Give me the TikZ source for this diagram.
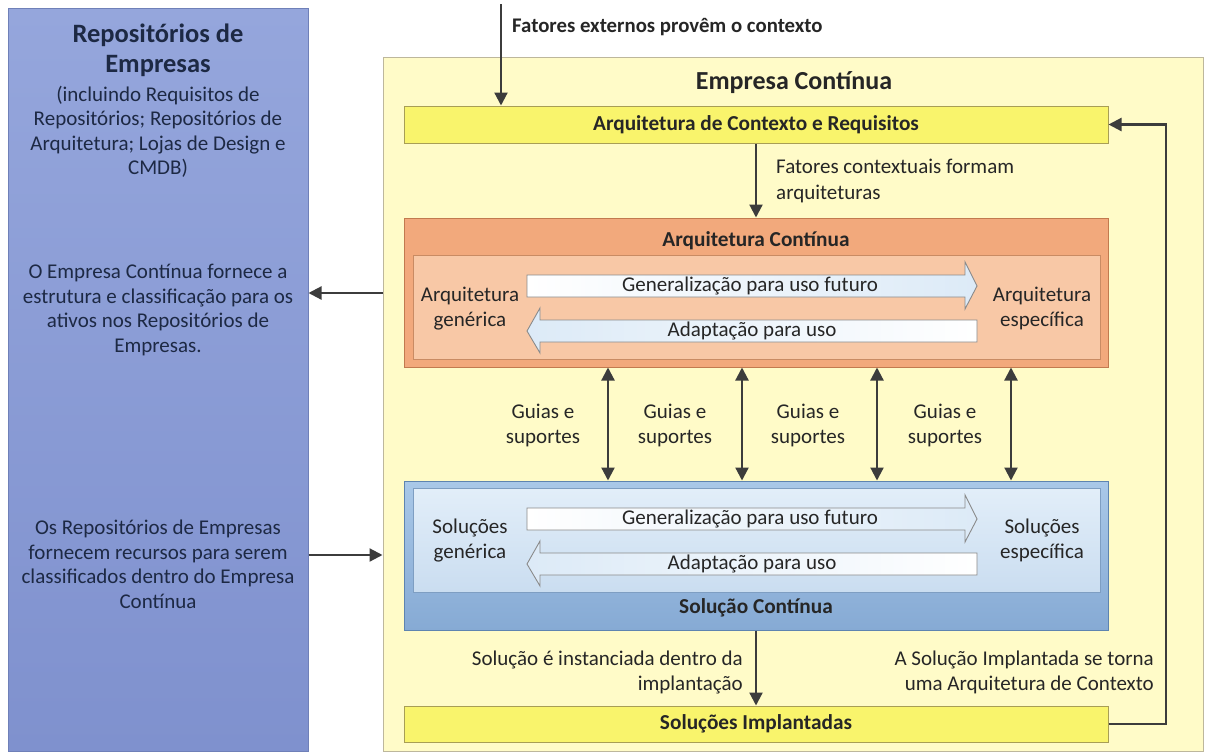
\documentclass[tikz,border=0pt]{standalone}
\usepackage{fontspec}
\setmainfont{Carlito}
\usetikzlibrary{arrows.meta}

\definecolor{repoTop}{HTML}{95A6DC}
\definecolor{repoBot}{HTML}{7F91CE}
\definecolor{repoEdge}{HTML}{6F80B8}
\definecolor{entFill}{HTML}{FFFBC8}
\definecolor{entEdge}{HTML}{BDB79C}
\definecolor{barFill}{HTML}{F9F46C}
\definecolor{barEdge}{HTML}{A89E55}
\definecolor{archOut}{HTML}{F2A97C}
\definecolor{archOutEdge}{HTML}{C27A4F}
\definecolor{archIn}{HTML}{F8C8A6}
\definecolor{archInEdge}{HTML}{C98B63}
\definecolor{solTop}{HTML}{A9C8E8}
\definecolor{solBot}{HTML}{86AAD4}
\definecolor{solEdge}{HTML}{5E84B0}
\definecolor{solInTop}{HTML}{E2EEF9}
\definecolor{solInBot}{HTML}{CADDF0}
\definecolor{solInEdge}{HTML}{7E9EC2}
\definecolor{flowTint}{HTML}{DCEAF7}
\definecolor{flowEdge}{HTML}{8A8A8A}
\definecolor{ink}{HTML}{262626}
\definecolor{navy}{HTML}{1D2944}
\definecolor{wire}{HTML}{3C3C3C}

\tikzset{
  box/.style={rectangle, inner sep=0pt, line width=1pt},
  txt/.style={font=\fontsize{21pt}{25pt}\selectfont, text=ink, align=center, inner sep=0pt},
  bold/.style={font=\fontsize{21.3pt}{25pt}\selectfont\bfseries, text=ink, inner sep=0pt},
  side/.style={font=\fontsize{21pt}{24.5pt}\selectfont, text=navy, align=center, inner sep=0pt},
  arr/.style={draw=wire, line width=2.2pt, -{Triangle[length=13pt,width=13pt]}},
  biarr/.style={draw=wire, line width=2.2pt, {Triangle[length=13pt,width=13pt]}-{Triangle[length=13pt,width=13pt]}},
  flowR/.style={draw=flowEdge, line width=0.9pt, left color=white, right color=flowTint},
  flowL/.style={draw=flowEdge, line width=0.9pt, left color=flowTint, right color=white},
}

\begin{document}
\begin{tikzpicture}[x=1pt,y=-1pt]
\useasboundingbox (0,0) rectangle (1205,753);
\fill[white] (0,0) rectangle (1205,753);

% repository column
\node[box, draw=repoEdge, top color=repoTop, bottom color=repoBot,
      minimum width=300pt, minimum height=743pt] (repo) at (158,379.5) {};
\node[font=\fontsize{26.5pt}{30pt}\selectfont\bfseries, text=navy, align=center, inner sep=0pt]
  (repoTitle) at (158,50) {Repositórios de\\Empresas};
\node[side] (repoSub) at (158,132) {(incluindo Requisitos de\\Repositórios; Repositórios de\\Arquitetura; Lojas de Design e\\CMDB)};
\node[side] (repoOut) at (158,310) {O Empresa Contínua fornece a\\estrutura e classificação para os\\ativos nos Repositórios de\\Empresas.};
\node[side] (repoIn) at (158,564.5) {Os Repositórios de Empresas\\fornecem recursos para serem\\classificados dentro do Empresa\\Contínua};

% enterprise continuum frame
\node[box, draw=entEdge, fill=entFill, minimum width=820pt, minimum height=694pt] (ec) at (793,404) {};
\node[font=\fontsize{26pt}{30pt}\selectfont\bfseries, text=ink, inner sep=0pt] (ecTitle) at (794,83) {Empresa Contínua};

% context bar
\node[box, draw=barEdge, fill=barFill, minimum width=704pt, minimum height=37pt] (ctx) at (756,124.5) {};
\node[bold] (ctxLbl) at (ctx.center) {Arquitetura de Contexto e Requisitos};

% architecture continuum
\node[box, draw=archOutEdge, fill=archOut, minimum width=704pt, minimum height=149pt] (ac) at (756,292.5) {};
\node[box, draw=archInEdge, fill=archIn, minimum width=687pt, minimum height=104pt] (acIn) at (756.5,307) {};
\node[bold] (acLbl) at (756,241) {Arquitetura Contínua};
\node[txt] (acGen) at (470,308.5) {Arquitetura\\genérica};
\node[txt] (acSpec) at (1042,308.5) {Arquitetura\\específica};
\path[flowR] (527,275) -- (965,275) -- (965,262) -- (977,286) -- (965,309) -- (965,297) -- (527,297) -- cycle;
\node[txt] (acUp) at (750,286) {Generalização para uso futuro};
\path[flowL] (977,320) -- (540,320) -- (540,308) -- (527,331) -- (540,353) -- (540,342) -- (977,342) -- cycle;
\node[txt] (acDown) at (752,331) {Adaptação para uso};

% solution continuum
\node[box, draw=solEdge, top color=solTop, bottom color=solBot, minimum width=704pt, minimum height=149pt] (sc) at (756,555.5) {};
\node[box, draw=solInEdge, top color=solInTop, bottom color=solInBot, minimum width=687pt, minimum height=104pt] (scIn) at (756.5,540) {};
\node[bold] (scLbl) at (756,608) {Solução Contínua};
\node[txt] (scGen) at (470,540.5) {Soluções\\genérica};
\node[txt] (scSpec) at (1042,540.5) {Soluções\\específica};
\path[flowR] (527,508) -- (965,508) -- (965,495) -- (977,519) -- (965,542) -- (965,530) -- (527,530) -- cycle;
\node[txt] (scUp) at (750,519) {Generalização para uso futuro};
\path[flowL] (977,553) -- (540,553) -- (540,541) -- (527,564) -- (540,586) -- (540,575) -- (977,575) -- cycle;
\node[txt] (scDown) at (752,564) {Adaptação para uso};

% deployed solutions bar
\node[box, draw=barEdge, fill=barFill, minimum width=704pt, minimum height=36pt] (impl) at (756,724) {};
\node[bold] (implLbl) at (impl.center) {Soluções Implantadas};

% external input
\coordinate (extTop) at (501,4);
\draw[arr] (extTop) -- (extTop |- ctx.north);
\node[font=\fontsize{20.8pt}{24pt}\selectfont\bfseries, text=ink, anchor=west, inner sep=0pt] (extLbl) at (512,27) {Fatores externos provêm o contexto};

% context shapes architectures
\draw[arr] (ctx.south) -- (ac.north);
\node[txt, align=left, anchor=west, font=\fontsize{21pt}{26pt}\selectfont] (ctxNote) at (776,181) {Fatores contextuais formam\\arquiteturas};

% guides and supports
\foreach \gx/\lx [count=\i] in {608/543, 742/675, 877/808, 1011/945} {
  \coordinate (g\i) at (\gx,0);
  \draw[biarr] (ac.south -| g\i) -- (sc.north -| g\i);
  \node[txt] (gl\i) at (\lx,425.5) {Guias e\\suportes};
}

% instantiation
\draw[arr] (sc.south) -- (impl.north);
\node[txt, align=right, anchor=east] (instNote) at (743,672.5) {Solução é instanciada dentro da\\implantação};

% feedback loop
\coordinate (loopX) at (1166,0);
\draw[arr] (impl.east) -- (impl.east -| loopX) -- (ctx.east -| loopX) -- (ctx.east);
\node[txt, align=right, anchor=east] (loopNote) at (1154,672.5) {A Solução Implantada se torna\\uma Arquitetura de Contexto};

% exchange with the repositories
\coordinate (outY) at (0,293);
\coordinate (inY) at (0,555);
\draw[arr] (ec.west |- outY) -- (repo.east |- outY);
\draw[arr] (repo.east |- inY) -- (ec.west |- inY);
\end{tikzpicture}
\end{document}
